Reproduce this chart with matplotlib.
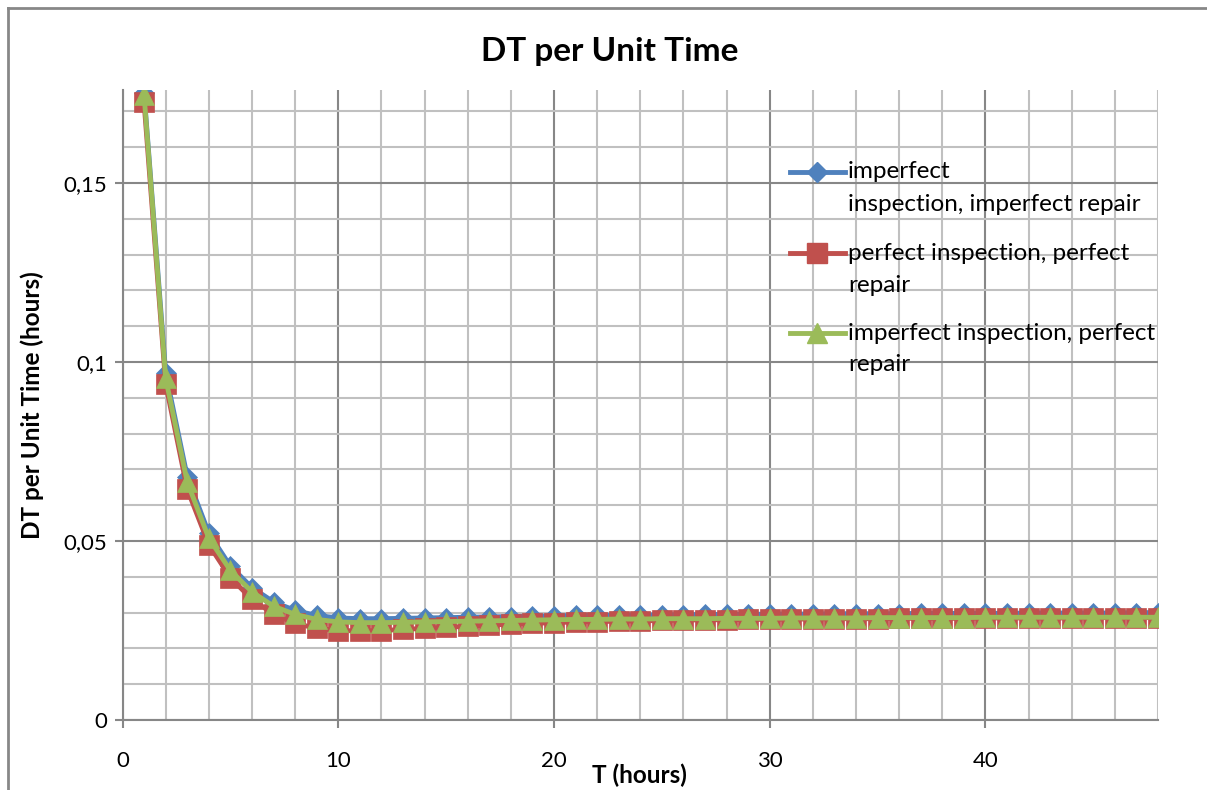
import numpy as np
import matplotlib
matplotlib.use("Agg")
import matplotlib.pyplot as plt
from matplotlib.ticker import MultipleLocator, FuncFormatter
from matplotlib.lines import Line2D

plt.rcParams['font.family'] = ['Lato', 'DejaVu Sans']

# T (hours)
T = list(range(1, 49))

# imperfect inspection, imperfect repair
dt_ii = [0.1752, 0.0970, 0.0680, 0.0522, 0.0430, 0.0370, 0.0330, 0.0306, 0.0292, 0.0285,
         0.0283, 0.0283, 0.0284, 0.0285, 0.0286, 0.0287, 0.0288, 0.0289, 0.0290, 0.0291,
         0.0292, 0.0292, 0.0293, 0.0293, 0.0294, 0.0294, 0.0295, 0.0295, 0.0295, 0.0296,
         0.0296, 0.0296, 0.0297, 0.0297, 0.0297, 0.0297, 0.0298, 0.0298, 0.0298, 0.0298,
         0.0298, 0.0299, 0.0299, 0.0299, 0.0299, 0.0299, 0.0300, 0.0300]
# perfect inspection, perfect repair
dt_pp = [0.1726, 0.0940, 0.0645, 0.0490, 0.0398, 0.0337, 0.0296, 0.0270, 0.0256, 0.0250,
         0.0249, 0.0250, 0.0253, 0.0256, 0.0259, 0.0262, 0.0265, 0.0268, 0.0270, 0.0272,
         0.0274, 0.0275, 0.0276, 0.0277, 0.0278, 0.0279, 0.0280, 0.0280, 0.0281, 0.0281,
         0.0282, 0.0282, 0.0283, 0.0283, 0.0283, 0.0284, 0.0284, 0.0284, 0.0284, 0.0285,
         0.0285, 0.0285, 0.0285, 0.0285, 0.0286, 0.0286, 0.0286, 0.0286]
# imperfect inspection, perfect repair
dt_ip = [0.1746, 0.0955, 0.0665, 0.0508, 0.0418, 0.0358, 0.0318, 0.0295, 0.0281, 0.0274,
         0.0272, 0.0272, 0.0273, 0.0274, 0.0275, 0.0276, 0.0277, 0.0278, 0.0279, 0.0280,
         0.0281, 0.0281, 0.0282, 0.0282, 0.0283, 0.0283, 0.0283, 0.0284, 0.0284, 0.0284,
         0.0285, 0.0285, 0.0285, 0.0285, 0.0286, 0.0286, 0.0286, 0.0286, 0.0286, 0.0287,
         0.0287, 0.0287, 0.0287, 0.0287, 0.0287, 0.0287, 0.0287, 0.0287]

labels = ["imperfect\ninspection, imperfect repair",
          "perfect inspection, perfect\nrepair",
          "imperfect inspection, perfect\nrepair"]
colors = ["#4F81BD", "#C0504D", "#9BBB59"]
markers = ["D", "s", "^"]
msizes = [10, 14, 15]

fig = plt.figure(figsize=(12.07, 7.90), dpi=100)
ax = fig.add_axes([122.5 / 1207, 1 - 720 / 790, 1035.5 / 1207, 630 / 790])

for ys, c, m, ms in zip([dt_ii, dt_pp, dt_ip], colors, markers, msizes):
    ax.plot(T, ys, color=c, lw=3.5, marker=m, markersize=ms,
            markeredgecolor=c, markeredgewidth=0.5)

ax.set_xlim(0, 48)
ax.set_ylim(0, 0.176)
ax.xaxis.set_major_locator(MultipleLocator(10))
ax.xaxis.set_minor_locator(MultipleLocator(2))
ax.yaxis.set_major_locator(MultipleLocator(0.05))
ax.yaxis.set_minor_locator(MultipleLocator(0.01))
ax.yaxis.set_major_formatter(FuncFormatter(lambda v, p: "0" if v == 0 else ("%g" % round(v, 3)).replace(".", ",")))

ax.grid(which="major", color="#878787", lw=1.5)
ax.grid(which="minor", color="#C0C0C0", lw=1.5)
ax.set_axisbelow(True)
for s in ["top", "right"]:
    ax.spines[s].set_visible(False)
for s in ["left", "bottom"]:
    ax.spines[s].set_color("#878787")
    ax.spines[s].set_linewidth(1.5)
ax.tick_params(which="major", length=6, width=1.5, color="#878787", labelsize=16)
ax.tick_params(which="minor", length=0)
ax.tick_params(axis="x", pad=16)
ax.tick_params(axis="y", pad=5)

# legend drawn like the original (handle next to first text line)
leg_rows = [(0.870, 0.8175), (0.741, 0.690), (0.614, 0.5635)]
for (y1, y2), lab, c, m, ms in zip(leg_rows, labels, colors, markers, msizes):
    ax.add_line(Line2D([0.6446, 0.6977], [y1, y1], transform=ax.transAxes, color=c, lw=3.5))
    ax.add_line(Line2D([0.6711], [y1], transform=ax.transAxes, color=c, marker=m,
                       markersize=ms, markeredgecolor=c, lw=0))
    l1, l2 = lab.split("\n")
    ax.text(0.7006, y1, l1, transform=ax.transAxes, va="center", ha="left", fontsize=17.5)
    ax.text(0.7006, y2, l2, transform=ax.transAxes, va="center", ha="left", fontsize=17.5)

fig.text(610 / 1207, 1 - 52 / 790, "DT per Unit Time", ha="center", va="center",
         fontsize=24, fontweight="bold")
fig.text(32 / 1207, 1 - 405 / 790, "DT per Unit Time (hours)", ha="center", va="center",
         rotation=90, fontsize=17.5, fontweight="bold")
fig.text(639 / 1207, 1 - 775 / 790, "T (hours)", ha="center", va="center",
         fontsize=17.5, fontweight="bold")

# outer chart frame
fig.add_artist(Line2D([8 / 1207, 8 / 1207], [0, 1 - 8 / 790], transform=fig.transFigure,
                      color="#878787", lw=2))
fig.add_artist(Line2D([8 / 1207, 1], [1 - 8 / 790, 1 - 8 / 790], transform=fig.transFigure,
                      color="#878787", lw=2))

fig.savefig("out.png", dpi=100)
